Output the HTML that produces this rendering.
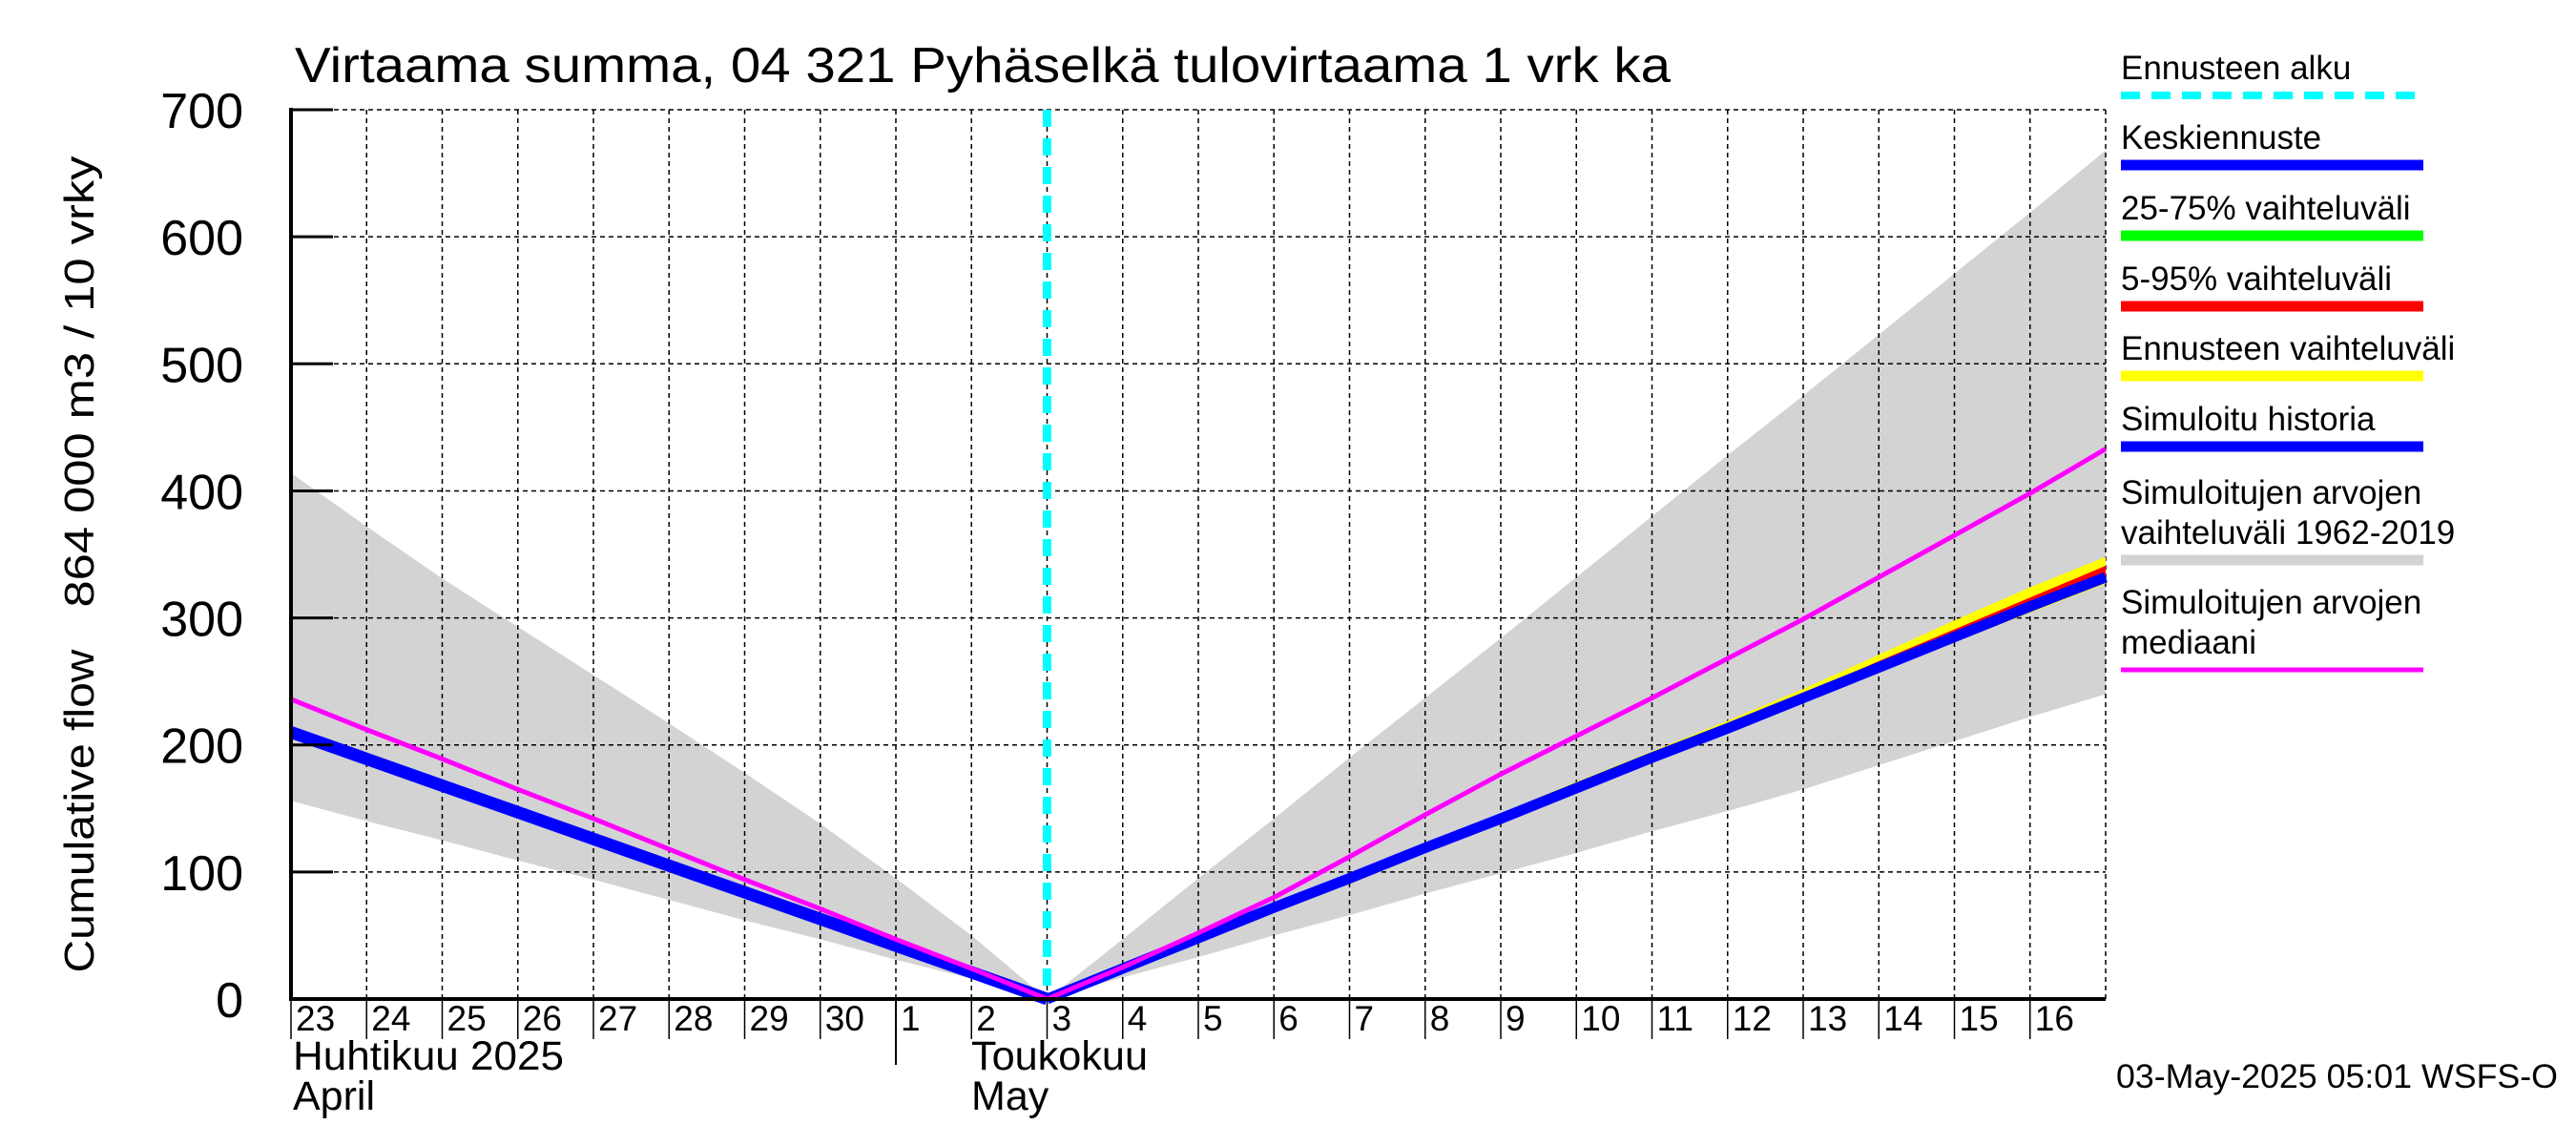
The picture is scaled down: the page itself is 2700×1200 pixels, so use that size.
<!DOCTYPE html>
<html><head><meta charset="utf-8"><style>
html,body{margin:0;padding:0;background:#fff;}
svg{display:block;font-family:"Liberation Sans",Arial,sans-serif;}
</style></head><body>
<svg id="chart" width="2700" height="1200" viewBox="0 0 2700 1200" xmlns="http://www.w3.org/2000/svg">
<rect x="0" y="0" width="2700" height="1200" fill="#fff"/>
<g id="plot"></g>
<text x="309" y="86" font-size="52" textLength="1442" lengthAdjust="spacingAndGlyphs">Virtaama summa, 04 321 Pyhäselkä tulovirtaama 1 vrk ka</text>
<text transform="translate(98,850) rotate(-90)" text-anchor="middle" font-size="44" textLength="339" lengthAdjust="spacingAndGlyphs">Cumulative flow</text>
<text transform="translate(98,400) rotate(-90)" text-anchor="middle" font-size="44" textLength="473" lengthAdjust="spacingAndGlyphs">864 000 m3 / 10 vrky</text>
<text x="307" y="1121" font-size="43" textLength="284" lengthAdjust="spacingAndGlyphs">Huhtikuu  2025</text>
<text x="307" y="1163" font-size="43">April</text>
<text x="1018" y="1121" font-size="43" textLength="185" lengthAdjust="spacingAndGlyphs">Toukokuu</text>
<text x="1018" y="1163" font-size="43">May</text>
<line x1="939" y1="1047" x2="939" y2="1116" stroke="#000" stroke-width="2"/>
<text x="2218" y="1140" font-size="35" textLength="463" lengthAdjust="spacingAndGlyphs">03-May-2025 05:01 WSFS-O</text>
<g id="legend"></g>
</svg>
<script>
// Data: day offsets from 23 Apr 00:00
const histDays = [0,1,2,3,4,5,6,7,8,9,10];
const histSim = [210,189,168,147,126,105,84,63,42,21,0];
const histMedian = [236,212,189,165,142,118,94,71,47,24,0];
const histRangeHi = [414,372,331,293,255,217,178,138,95,50,0];
const histRangeLo = [156,140,125,109,94,78,62,47,31,16,0];
const fcDays = [10,11,12,13,14,15,16,17,18,19,20,21,22,23,24];
const fcMean = [0,24,48,72,95,119,142,166,190,213,237,261,285,309,332];
const fcYellowHi = [0,25,50,75,98,123,146,171,195,219,244,271,298,324,348];
const fcYellowLo = [0,23,47,70,93,117,140,164,187,210,234,257,281,304,327];
const fcRedHi = [0,24,49,73,96,120,144,168,192,215,240,266,291,316,341];
const fcRedLo = [0,24,48,71,94,118,141,165,189,212,236,260,284,308,331];
const fcMedian = [0,25,52,80,112,145,177,207,237,268,299,332,365,398,433];
const fcRangeHi = [0,47,95,142,190,237,284,332,380,428,475,523,571,619,668];
const fcRangeLo = [0,17,33,50,66,83,99,115,132,148,165,184,203,222,240];
const dayLabels = ["23","24","25","26","27","28","29","30","1","2","3","4","5","6","7","8","9","10","11","12","13","14","15","16"];
const yTicks = [0,100,200,300,400,500,600,700];
const forecastStart = 10;

const X0=305, DX=79.25, Y0=1047, KY=1.3314, NDAYS=24;
const xs = d => X0 + d*DX;
const ys = v => Y0 - v*KY;
const NS="http://www.w3.org/2000/svg";
const plot=document.getElementById('plot');
function mk(tag, attrs, parent){const e=document.createElementNS(NS,tag);for(const k in attrs)e.setAttribute(k,attrs[k]);(parent||plot).appendChild(e);return e;}
function band(days,hi,lo,fill,name){
  let p=days.map((d,i)=>xs(d)+','+ys(hi[i]));
  for(let i=days.length-1;i>=0;i--)p.push(xs(days[i])+','+ys(lo[i]));
  const e=mk('polygon',{points:p.join(' '),fill:fill});
  
  
}
function line(days,vals,color,w,name){
  const e=mk('polyline',{points:days.map((d,i)=>xs(d)+','+ys(vals[i])).join(' '),fill:'none',stroke:color,'stroke-width':w,'stroke-linejoin':'round'});
  
  
}
band(histDays,histRangeHi,histRangeLo,'#d3d3d3','sim-range-band-history');
band(fcDays,fcRangeHi,fcRangeLo,'#d3d3d3','sim-range-band-forecast');
for(let i=1;i<yTicks.length;i++){
  const g=mk('line',{x1:X0,x2:xs(NDAYS),y1:ys(yTicks[i]),y2:ys(yTicks[i]),stroke:'#000','stroke-width':1.5,'stroke-dasharray':'5,4'});
  
  
}
for(let d=1;d<=NDAYS;d++){
  const g=mk('line',{x1:xs(d),x2:xs(d),y1:ys(700),y2:Y0,stroke:'#000','stroke-width':1.5,'stroke-dasharray':'5,4'});
  
  
}
band(fcDays,fcYellowHi,fcYellowLo,'#ffff00','forecast-range-band');
band(fcDays,fcRedHi,fcRedLo,'#ff0000','p5-95-band');
line(fcDays,fcMean,'#0000ff',11,'mean-forecast-line');
line(histDays,histSim,'#0000ff',13,'simulated-history-line');
line(histDays,histMedian,'#ff00ff',5,'median-line-history');
line(fcDays,fcMedian,'#ff00ff',5,'median-line-forecast');
const fs=mk('line',{x1:xs(forecastStart),x2:xs(forecastStart),y1:ys(700),y2:Y0,stroke:'#00ffff','stroke-width':9,'stroke-dasharray':'18,12'});


const ax1=mk('line',{x1:X0,x2:X0,y1:ys(700)-2,y2:Y0+2,stroke:'#000','stroke-width':4});


const ax2=mk('line',{x1:X0-2,x2:xs(NDAYS),y1:Y0,y2:Y0,stroke:'#000','stroke-width':4});


yTicks.forEach(v=>{
  const t=mk('line',{x1:X0,x2:X0+44,y1:ys(v),y2:ys(v),stroke:'#000','stroke-width':3});
  
  
  const l=mk('text',{x:X0-50,y:ys(v)+19,'text-anchor':'end','font-size':52});
  l.textContent=v;
  
  
});
dayLabels.forEach((s,i)=>{
  const t=mk('line',{x1:xs(i),x2:xs(i),y1:Y0,y2:Y0+42,stroke:'#000','stroke-width':1.5});
  
  
  const l=mk('text',{x:xs(i)+5,y:1080,'font-size':37});
  l.textContent=s;
  
  
});
const leg=document.getElementById('legend');
const items=[
  {t:['Ennusteen alku'],c:'#00ffff',dash:true,ly:100},
  {t:['Keskiennuste'],c:'#0000ff',ly:173},
  {t:['25-75% vaihteluväli'],c:'#00ff00',ly:247},
  {t:['5-95% vaihteluväli'],c:'#ff0000',ly:321},
  {t:['Ennusteen vaihteluväli'],c:'#ffff00',ly:394},
  {t:['Simuloitu historia'],c:'#0000ff',ly:468},
  {t:['Simuloitujen arvojen','vaihteluväli 1962-2019'],c:'#d3d3d3',ly:587},
  {t:['Simuloitujen arvojen','mediaani'],c:'#ff00ff',ly:702,thin:true}
];
items.forEach(it=>{
  const n=it.t.length;
  it.t.forEach((s,j)=>{
    const tx=mk('text',{x:2223,y:it.ly-17-(n-1-j)*42,'font-size':35},leg);
    tx.textContent=s;
    
    
  });
  const ln=mk('line',{x1:2223,x2:2540,y1:it.ly,y2:it.ly,stroke:it.c,'stroke-width':it.thin?5:(it.dash?8:11)},leg);
  if(it.dash)ln.setAttribute('stroke-dasharray','20,12');
  
  
});
</script>
</body></html>
